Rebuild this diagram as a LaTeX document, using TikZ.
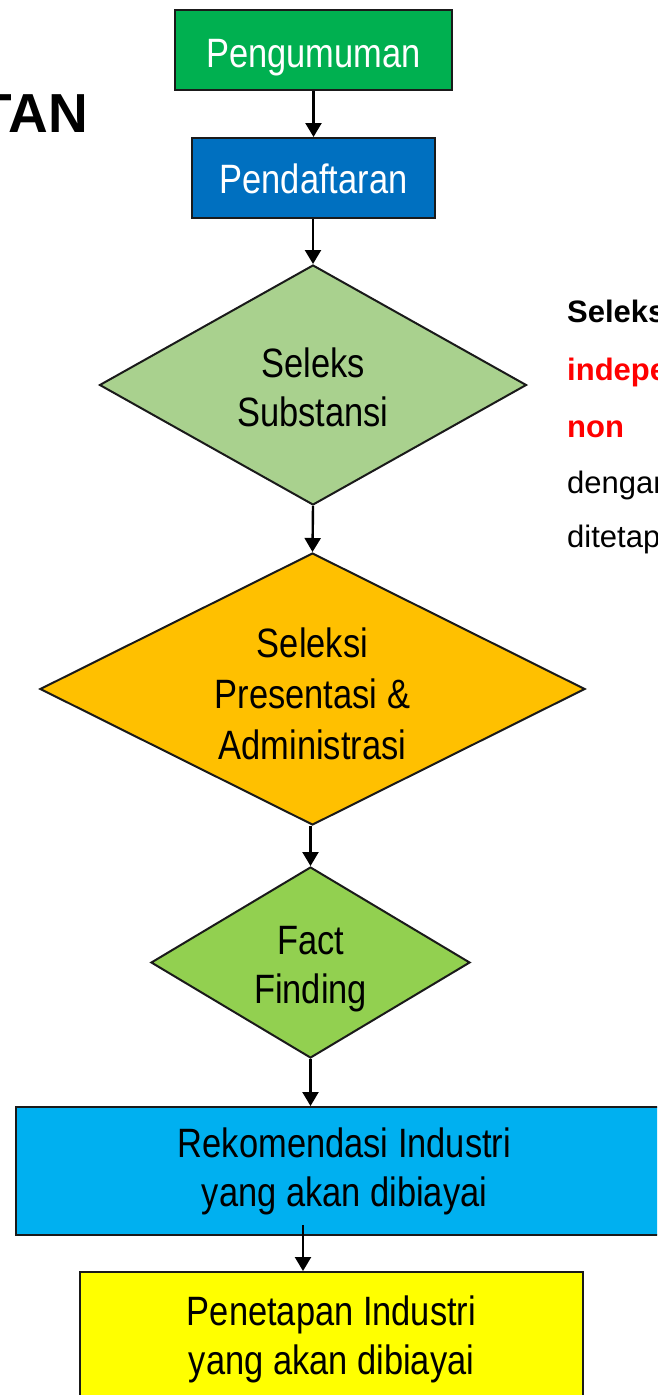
\documentclass[tikz,border=0pt]{standalone}
\usepackage{fontspec}
\setmainfont{Liberation Sans}
\newfontfamily\narrowfont[FakeStretch=0.84]{Liberation Sans}
\usetikzlibrary{shapes.geometric,arrows.meta}
\definecolor{cPeng}{HTML}{00B050}
\definecolor{cPend}{HTML}{0070C0}
\definecolor{cSub}{HTML}{A9D18E}
\definecolor{cPres}{HTML}{FFC000}
\definecolor{cFact}{HTML}{92D050}
\definecolor{cRek}{HTML}{00B0F0}
\definecolor{cPen}{HTML}{FFFF00}
\definecolor{cLine}{HTML}{1A1A1A}
\definecolor{cRed}{HTML}{FF0000}
\tikzset{
  boxst/.style={draw=cLine, line width=2pt, rectangle, inner sep=0pt, align=center,
    font=\narrowfont\fontsize{41}{49}\selectfont},
  diast/.style={draw=cLine, line width=2pt, diamond, inner sep=0pt},
  diatxt/.style={inner sep=0pt, align=center, font=\narrowfont\fontsize{41}{49}\selectfont},
  arr/.style={draw=black, line width=2.4pt, -{Triangle[width=16pt,length=14pt]}},
  sidetxt/.style={anchor=base west, inner sep=0pt, font=\fontsize{31}{31}\selectfont}
}
\begin{document}
\begin{tikzpicture}[x=1pt,y=-1pt]
\clip (0,0) rectangle (657,1395);
\fill[white] (0,0) rectangle (657,1395);

\node[anchor=base east, inner sep=0pt, font=\fontsize{55}{55}\selectfont\bfseries] (tan) at (88,132) {TAN};

\node[boxst, fill=cPeng, text=white, minimum width=277, minimum height=80, text height=34, text depth=0] (n1) at (313.5,50) {Pengumuman};
\node[boxst, fill=cPend, text=white, minimum width=243, minimum height=80, text height=30, text depth=0] (n2) at (313.5,178) {Pendaftaran};

\node[diast, fill=cSub, minimum width=427, minimum height=240] (d1) at (313,385) {};
\node[diatxt] (d1t) at (313,387) {Seleks\\Substansi};

\node[diast, fill=cPres, minimum width=545, minimum height=272] (d2) at (312.5,689) {};
\node[diatxt, font=\narrowfont\fontsize{41}{51}\selectfont] (d2t) at (312.5,694) {Seleksi\\Presentasi \&\\Administrasi};

\node[diast, fill=cFact, minimum width=319, minimum height=191] (d3) at (310.5,962.5) {};
\node[diatxt] (d3t) at (310.5,969) {Fact\\Finding};

\node[boxst, fill=cRek, minimum width=657, minimum height=128] (rek) at (344.5,1171) {Rekomendasi Industri\\yang akan dibiayai};
\node[boxst, fill=cPen, minimum width=503, minimum height=134] (pen) at (331.5,1339) {Penetapan Industri\\yang akan dibiayai};

\draw[arr] (n1.south) -- (n1.south |- n2.north);
\draw[arr] (d1.north |- n2.south) -- (d1.north);
\draw[arr] (d1.south) -- (d2.north);
\draw[arr] (d3.north |- d2.south) -- (d3.north);
\draw[arr] (d3.south) -- (d3.south |- rek.north);
\coordinate (s6) at (303,1225);
\draw[arr] (s6) -- (s6 |- pen.north);

\node[sidetxt, font=\fontsize{31}{31}\selectfont\bfseries] (r1) at (567,322) {Seleks};
\node[sidetxt, text=cRed, font=\fontsize{31}{31}\selectfont\bfseries] (r2) at (567,380) {indepe};
\node[sidetxt, text=cRed, font=\fontsize{31}{31}\selectfont\bfseries] (r3) at (567,437) {non};
\node[sidetxt] (r4) at (567,493) {dengan};
\node[sidetxt] (r5) at (567,547) {ditetap};
\end{tikzpicture}
\end{document}
